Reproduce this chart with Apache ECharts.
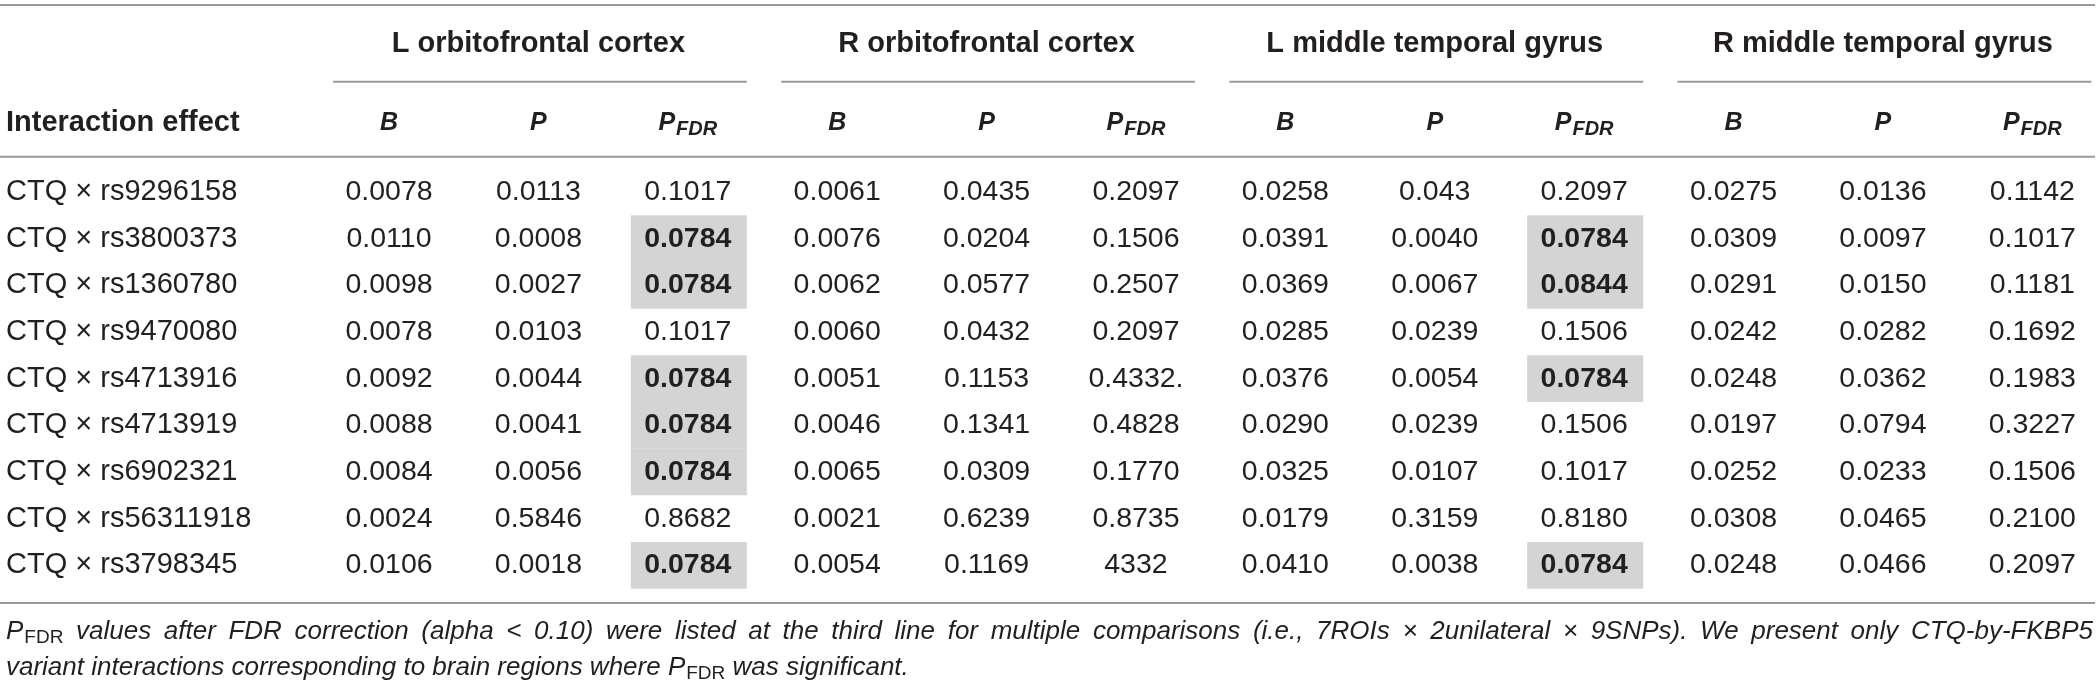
<!DOCTYPE html>
<html>
<head>
<meta charset="utf-8">
<script src="https://cdn.jsdelivr.net/npm/echarts@6/dist/echarts.min.js"></script>
<style>
html,body{margin:0;padding:0;background:#ffffff;}
#c{width:2100px;height:688px;}
</style>
</head>
<body>
<div id="c"></div>
<script>
// ---------- DATA ----------
const rowLabels = [
  'CTQ × rs9296158', 'CTQ × rs3800373', 'CTQ × rs1360780', 'CTQ × rs9470080',
  'CTQ × rs4713916', 'CTQ × rs4713919', 'CTQ × rs6902321', 'CTQ × rs56311918',
  'CTQ × rs3798345'
];
const regions = ['L orbitofrontal cortex', 'R orbitofrontal cortex', 'L middle temporal gyrus', 'R middle temporal gyrus'];
const statLabels = ['B', 'P', 'PFDR'];
const firstHeader = 'Interaction effect';

const lofcB    = ['0.0078','0.0110','0.0098','0.0078','0.0092','0.0088','0.0084','0.0024','0.0106'];
const lofcP    = ['0.0113','0.0008','0.0027','0.0103','0.0044','0.0041','0.0056','0.5846','0.0018'];
const lofcPFDR = ['0.1017','0.0784','0.0784','0.1017','0.0784','0.0784','0.0784','0.8682','0.0784'];
const rofcB    = ['0.0061','0.0076','0.0062','0.0060','0.0051','0.0046','0.0065','0.0021','0.0054'];
const rofcP    = ['0.0435','0.0204','0.0577','0.0432','0.1153','0.1341','0.0309','0.6239','0.1169'];
const rofcPFDR = ['0.2097','0.1506','0.2507','0.2097','0.4332.','0.4828','0.1770','0.8735','4332'];
const lmtgB    = ['0.0258','0.0391','0.0369','0.0285','0.0376','0.0290','0.0325','0.0179','0.0410'];
const lmtgP    = ['0.043','0.0040','0.0067','0.0239','0.0054','0.0239','0.0107','0.3159','0.0038'];
const lmtgPFDR = ['0.2097','0.0784','0.0844','0.1506','0.0784','0.1506','0.1017','0.8180','0.0784'];
const rmtgB    = ['0.0275','0.0309','0.0291','0.0242','0.0248','0.0197','0.0252','0.0308','0.0248'];
const rmtgP    = ['0.0136','0.0097','0.0150','0.0282','0.0362','0.0794','0.0233','0.0465','0.0466'];
const rmtgPFDR = ['0.1142','0.1017','0.1181','0.1692','0.1983','0.3227','0.1506','0.2100','0.2097'];

// rows (0-based) whose P_FDR cell is significant (bold, shaded)
const lofcSigRows = [1, 2, 4, 5, 6, 8];
const lmtgSigRows = [1, 2, 4, 8];

// footnote: line 1 is justified word by word, line 2 is set naturally
const footLine1Words = ('values after FDR correction (alpha < 0.10) were listed at the third line for multiple ' +
  'comparisons (i.e., 7ROIs × 2unilateral × 9SNPs). We present only CTQ-by-FKBP5').split(' ');
const footLine2 = '{t|variant interactions corresponding to brain regions where }{i|P}{s|FDR}{t| was significant.}';

// ---------- LAYOUT (axis units: columns / rows) ----------
const columns = [lofcB, lofcP, lofcPFDR, rofcB, rofcP, rofcPFDR, lmtgB, lmtgP, lmtgPFDR, rmtgB, rmtgP, rmtgPFDR];
const sigByCol = {2: lofcSigRows, 8: lmtgSigRows};

const X_MIN = -2.604, X_MAX = 11.453;
const Y_MIN = -4.114, Y_MAX = 10.628;
const LABEL_X = -2.564;
const TOP_RULE_Y = -4.007, GROUP_Y = -3.17, UNDER_Y = -2.363, SUB_Y = -1.47, HEAD_RULE_Y = -0.757;
const BOTTOM_RULE_Y = 8.807, NOTE_Y1 = 9.43, NOTE_Y2 = 10.2;
const RULE_X_END = 11.42, NOTE_X_END = 11.406;

const FONT = '"Liberation Sans", Arial, Helvetica, sans-serif';
const INK = '#231f20';
const RULE = '#9a9a9a';
const SHADE = '#d4d4d4';
const NOTE_SIZE = 26, SUB_SIZE = 19;

// ---------- BUILD ----------
const cellData = [];
columns.forEach((col, ci) => {
  col.forEach((txt, ri) => {
    const sig = (sigByCol[ci] || []).indexOf(ri) >= 0;
    cellData.push({ value: [ci, ri], text: txt, sig: sig });
  });
});

const labelData = rowLabels.map((t, ri) => ({ value: [LABEL_X, ri], text: t }));

const ruleData = [
  { value: [X_MIN, TOP_RULE_Y], x2: RULE_X_END },
  { value: [X_MIN, HEAD_RULE_Y], x2: RULE_X_END },
  { value: [X_MIN, BOTTOM_RULE_Y], x2: RULE_X_END }
];
regions.forEach((r, g) => {
  ruleData.push({ value: [3 * g - 0.375, UNDER_Y], x2: 3 * g + 2.395 });
});

const headData = [];
headData.push({ value: [LABEL_X, SUB_Y], kind: 'first', text: firstHeader });
regions.forEach((r, g) => headData.push({ value: [3 * g + 1, GROUP_Y], kind: 'group', text: r }));
columns.forEach((c, ci) => headData.push({ value: [ci, SUB_Y], kind: 'stat', text: statLabels[ci % 3] }));

const noteData = [
  { value: [LABEL_X, NOTE_Y1], line: 1 },
  { value: [LABEL_X, NOTE_Y2], line: 2 }
];
const noteRich = {
  t: { fontFamily: FONT, fontSize: NOTE_SIZE, fontStyle: 'italic', fill: INK, color: INK },
  i: { fontFamily: FONT, fontSize: NOTE_SIZE, fontStyle: 'italic', fill: INK, color: INK },
  s: { fontFamily: FONT, fontSize: SUB_SIZE, fontStyle: 'normal', fill: INK, color: INK, padding: [12, 0, 0, 1] }
};

const measureCtx = document.createElement('canvas').getContext('2d');
function textWidth(font, txt) { measureCtx.font = font; return measureCtx.measureText(txt).width; }

function renderCell(params, api) {
  const d = cellData[params.dataIndex];
  const p = api.coord([api.value(0), api.value(1)]);
  const s = api.size([1, 1]);
  const w = Math.abs(s[0]), h = Math.abs(s[1]);
  const children = [];
  if (d.sig) {
    children.push({
      type: 'rect',
      shape: { x: p[0] - 0.3815 * w, y: p[1] - h / 2, width: 0.7765 * w, height: h },
      style: { fill: SHADE }
    });
  }
  children.push({
    type: 'text', x: p[0], y: p[1],
    style: { text: d.text, align: 'center', verticalAlign: 'middle', fontFamily: FONT,
             fontSize: 28.5, fontWeight: d.sig ? 'bold' : 'normal', fill: INK }
  });
  return { type: 'group', children: children };
}

function renderLabel(params, api) {
  const d = labelData[params.dataIndex];
  const p = api.coord([api.value(0), api.value(1)]);
  return { type: 'text', x: p[0], y: p[1],
    style: { text: d.text, align: 'left', verticalAlign: 'middle', fontFamily: FONT, fontSize: 29, fill: INK } };
}

function renderRule(params, api) {
  const d = ruleData[params.dataIndex];
  const p1 = api.coord([api.value(0), api.value(1)]);
  const p2 = api.coord([d.x2, api.value(1)]);
  return { type: 'line', shape: { x1: p1[0], y1: p1[1], x2: p2[0], y2: p2[1] },
    style: { stroke: RULE, lineWidth: 2 } };
}

function renderHead(params, api) {
  const d = headData[params.dataIndex];
  const p = api.coord([api.value(0), api.value(1)]);
  if (d.kind === 'first') {
    return { type: 'text', x: p[0], y: p[1],
      style: { text: d.text, align: 'left', verticalAlign: 'middle', fontFamily: FONT, fontSize: 29, fontWeight: 'bold', fill: INK } };
  }
  if (d.kind === 'group') {
    return { type: 'text', x: p[0], y: p[1],
      style: { text: d.text, align: 'center', verticalAlign: 'middle', fontFamily: FONT, fontSize: 29, fontWeight: 'bold', fill: INK } };
  }
  if (d.text === 'PFDR') {
    return { type: 'text', x: p[0], y: p[1],
      style: { text: '{p|P}{s|FDR}', align: 'center', verticalAlign: 'middle',
        rich: {
          p: { fontFamily: FONT, fontSize: 25, fontStyle: 'italic', fontWeight: 'bold', fill: INK, color: INK },
          s: { fontFamily: FONT, fontSize: 20, fontStyle: 'italic', fontWeight: 'bold', fill: INK, color: INK, padding: [12, 0, 0, 1] }
        } } };
  }
  return { type: 'text', x: p[0], y: p[1],
    style: { text: d.text, align: 'center', verticalAlign: 'middle', fontFamily: FONT, fontSize: 25,
             fontStyle: 'italic', fontWeight: 'bold', fill: INK } };
}

function renderNote(params, api) {
  const d = noteData[params.dataIndex];
  const p = api.coord([api.value(0), api.value(1)]);
  if (d.line === 2) {
    return { type: 'text', x: p[0], y: p[1],
      style: { text: footLine2, align: 'left', verticalAlign: 'middle', rich: noteRich } };
  }
  // line 1: justified between the label column start and the table's right edge
  const right = api.coord([NOTE_X_END, api.value(1)])[0];
  const italicFont = 'italic ' + NOTE_SIZE + 'px ' + FONT;
  const leadW = textWidth(italicFont, 'P') + textWidth('normal ' + SUB_SIZE + 'px ' + FONT, 'FDR') + 1;
  const widths = footLine1Words.map(w => textWidth(italicFont, w));
  const total = leadW + widths.reduce((a, b) => a + b, 0);
  const gap = Math.max(textWidth(italicFont, ' '), (right - p[0] - total) / footLine1Words.length);
  const children = [{ type: 'text', x: p[0], y: p[1],
    style: { text: '{i|P}{s|FDR}', align: 'left', verticalAlign: 'middle', rich: noteRich } }];
  let x = p[0] + leadW + gap;
  footLine1Words.forEach((w, k) => {
    children.push({ type: 'text', x: x, y: p[1],
      style: { text: w, align: 'left', verticalAlign: 'middle', fontFamily: FONT, fontSize: NOTE_SIZE,
               fontStyle: 'italic', fill: INK } });
    x += widths[k] + gap;
  });
  return { type: 'group', children: children };
}

const chart = echarts.init(document.getElementById('c'), null, { renderer: 'canvas', width: 2100, height: 688 });
chart.setOption({
  animation: false,
  backgroundColor: '#ffffff',
  grid: { left: 0, right: 0, top: 0, bottom: 0, containLabel: false },
  xAxis: { type: 'value', min: X_MIN, max: X_MAX, show: false },
  yAxis: { type: 'value', min: Y_MIN, max: Y_MAX, inverse: true, show: false },
  series: [
    { type: 'custom', name: 'rules', coordinateSystem: 'cartesian2d', clip: false, silent: true,
      data: ruleData.map(d => d.value), renderItem: renderRule, z: 1 },
    { type: 'custom', name: 'cells', coordinateSystem: 'cartesian2d', clip: false, silent: true,
      data: cellData.map(d => d.value), renderItem: renderCell, z: 2 },
    { type: 'custom', name: 'labels', coordinateSystem: 'cartesian2d', clip: false, silent: true,
      data: labelData.map(d => d.value), renderItem: renderLabel, z: 3 },
    { type: 'custom', name: 'headers', coordinateSystem: 'cartesian2d', clip: false, silent: true,
      data: headData.map(d => d.value), renderItem: renderHead, z: 3 },
    { type: 'custom', name: 'notes', coordinateSystem: 'cartesian2d', clip: false, silent: true,
      data: noteData.map(d => d.value), renderItem: renderNote, z: 3 }
  ]
});
</script>
</body>
</html>
